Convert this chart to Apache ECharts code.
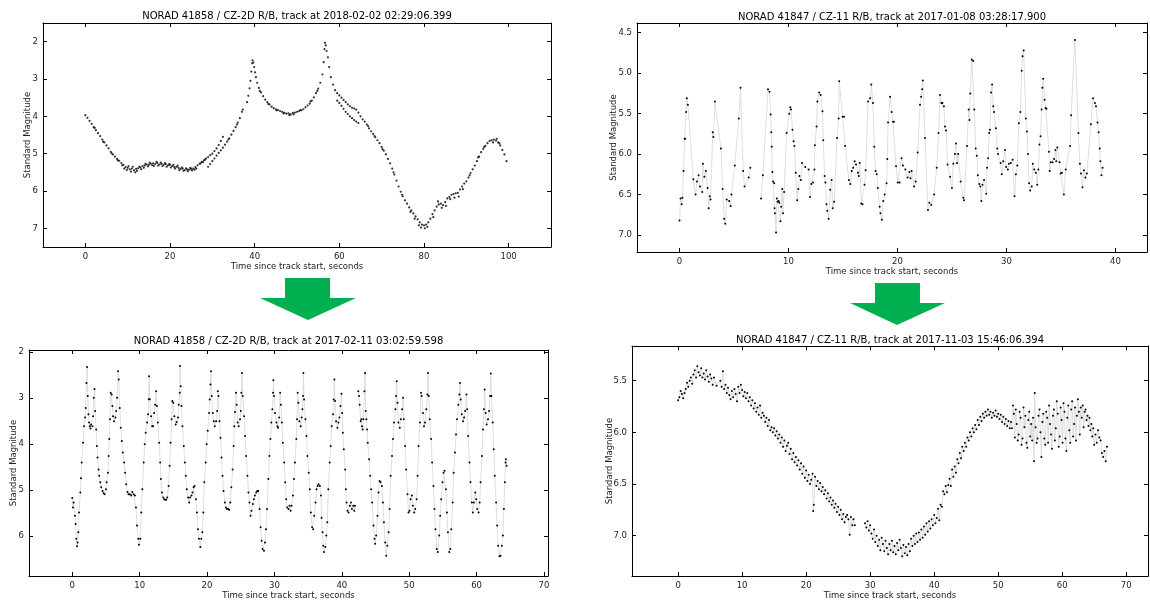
<!DOCTYPE html>
<html>
<head>
<meta charset="utf-8">
<title>NORAD light curves</title>
<script src="https://cdn.jsdelivr.net/npm/echarts@6/dist/echarts.min.js"></script>
<style>
  html, body { margin: 0; padding: 0; background: #fff; }
  #main { width: 1150px; height: 601px; }
</style>
</head>
<body>
<div id="main"></div>
<script>
// top-left: NORAD 41858, 2018-02-02  [seconds, magnitude]
const track1 = [
  [0,3.97],[0.5,4.04],[1,4.12],[1.5,4.2],[2,4.29],[2.5,4.37],[3,4.45],[3.5,4.53],[4,4.62],[4.5,4.7],
  [5,4.78],[5.5,4.86],[6,4.95],[6.5,5.02],[7,5.08],[7.5,5.14],[8,5.19],[8.5,5.25],[9,5.3],[9.5,5.36],
  [10,5.38],[10.5,5.42],[11,5.4],[11.5,5.45],[12,5.41],[12.5,5.39],[13,5.37],[13.5,5.33],[14,5.32],[14.5,5.29],
  [15,5.3],[15.5,5.27],[16,5.26],[16.5,5.28],[17,5.25],[17.5,5.29],[18,5.27],[18.5,5.3],[19,5.28],[19.5,5.32],
  [20,5.3],[20.5,5.33],[21,5.36],[21.5,5.35],[22,5.38],[22.5,5.41],[23,5.4],[23.5,5.44],[24,5.42],[24.5,5.43],
  [25,5.41],[25.5,5.4],[26,5.36],[26.5,5.31],[27,5.27],[27.5,5.22],[28,5.18],[28.5,5.13],[29,5.09],[29.5,5.04],
  [30,5],[30.5,4.93],[31,4.86],[31.5,4.77],[32,4.66],[32.5,4.55],
  [9.2,5.4],[9.8,5.44],[10.2,5.33],[10.8,5.48],[11.2,5.35],[11.8,5.5],[12.2,5.46],[12.8,5.35],[13.2,5.42],[13.8,5.38],
  [14.2,5.27],[14.8,5.34],[15.2,5.24],[15.8,5.31],[16.2,5.33],[16.8,5.22],[17.2,5.32],[17.8,5.24],[18.2,5.33],[18.8,5.25],
  [19.2,5.35],[19.8,5.28],[20.2,5.37],[20.8,5.3],[21.2,5.4],[21.8,5.32],[22.2,5.44],[22.8,5.37],[23.2,5.46],[23.8,5.39],
  [24.2,5.47],[24.8,5.38],[25.2,5.45],[25.8,5.43],[26.2,5.4],
  [29,5.35],[29.5,5.28],[30,5.2],[30.5,5.13],[31,5.05],[31.5,4.98],[32,4.91],[32.5,4.84],[33,4.76],[33.5,4.68],
  [34,4.59],[34.5,4.49],[35,4.39],[35.5,4.29],[36,4.17],[36.5,4.05],[37,3.88],[37.2,3.82],
  [38.2,3.62],[38.5,3.45],[38.8,3.25],[39,3.05],[39.2,2.8],[39.4,2.58],[39.5,2.5],[39.7,2.56],[39.9,2.68],[40.1,2.82],
  [40.3,2.95],[40.6,3.1],[41,3.24],[41.5,3.36],[42,3.46],[42.5,3.55],[43,3.62],[43.5,3.68],[44,3.74],[44.5,3.78],
  [45,3.81],[45.5,3.83],[46,3.86],[46.5,3.88],[47,3.91],[47.5,3.93],[48,3.92],[48.5,3.95],[49,3.91],[49.5,3.9],
  [50,3.88],[50.5,3.86],[51,3.84],[51.5,3.81],[52,3.76],[52.5,3.71],[53,3.66],[53.5,3.58],[54,3.49],[54.5,3.38],
  [55,3.26],[55.5,3.1],[56,2.88],[56.3,2.55],[56.5,2.2],[56.6,2.03],[56.8,2.1],[57,2.25],[57.3,2.42],[57.6,2.68],
  [58,2.95],[58.5,3.15],[59,3.3],[59.5,3.38],[60,3.44],[60.5,3.5],[61,3.56],[61.5,3.62],[62,3.68],[62.5,3.73],
  [63,3.77],[63.5,3.79],[64,3.82],[64.5,3.9],[65,4],[65.5,4.08],[66,4.14],[66.5,4.22],[67,4.32],[67.5,4.4],
  [68,4.47],[68.5,4.56],[69,4.64],[69.5,4.72],[70,4.82],[70.5,4.92],[71,5.02],[71.5,5.14],[72,5.26],[72.5,5.4],
  [73,5.56],[73.5,5.72],[74,5.88],[74.5,6.02],[75,6.14],[75.5,6.25],[76,6.34],[76.5,6.44],[77,6.52],[77.5,6.6],
  [78,6.68],[78.5,6.76],[79,6.84],[79.5,6.9],[80,6.92],[80.5,6.9],[81,6.84],[81.5,6.74],[82,6.62],[82.5,6.52],
  [83,6.42],[83.5,6.36],[84,6.34],[84.5,6.38],[85,6.3],[85.5,6.2],[86,6.16],[86.5,6.1],[87,6.08],[87.5,6.06],
  [88,6.05],[88.5,5.96],[89,5.88],[89.5,5.8],[90,5.74],[90.5,5.64],[91,5.52],[91.5,5.42],[92,5.32],[92.5,5.2],
  [93,5.08],[93.5,4.96],[94,4.87],[94.5,4.79],[95,4.72],[95.5,4.66],[96,4.64],[96.5,4.62],[97,4.65],[97.5,4.7],
  [98,4.78],[98.5,4.9],[99,5.02],[99.5,5.2],
  [59.5,3.58],[60,3.64],[60.5,3.72],[61,3.8],[61.5,3.88],[62,3.94],[62.5,4],[63,4.05],[63.5,4.1],[64,4.14],[64.5,4.18],
  [76.8,6.56],[77.8,6.74],[78.8,6.92],[79.3,6.98],[80.2,7],[80.8,6.96],[82.2,6.7],[83.3,6.28],[84.2,6.45],[85.2,6.4],
  [86.2,6.22],[87.2,6.18],[88.2,6.15],[89.2,5.95],[96.3,4.7],[97.2,4.6],[97.8,4.72],
  [2.2,4.31],[4.2,4.68],[6.2,4.99],[7.7,5.18],[8.7,5.31],[27.2,5.26],[27.8,5.23],[28.3,5.16],[33.8,4.62],[35.8,4.22],
  [41.2,3.32],[43.2,3.67],[45.2,3.84],[46.8,3.92],[48.2,3.97],[49.2,3.95],[50.8,3.83],[53.2,3.6],[54.8,3.32],[66.8,4.26],
  [68.3,4.53],[70.2,4.88],[72.8,5.5],[74.8,6.1],[90.8,5.58],[92.8,5.1],[94.2,4.82]
];

// top-right: NORAD 41847, 2017-01-08
const track2 = [
  [0,6.82],[0.1,6.55],[0.2,6.62],[0.27,6.54],[0.37,6.21],[0.47,5.81],[0.52,5.81],[0.6,5.48],[0.67,5.31],[0.77,5.39],
  [1.27,6.31],[1.48,6.5],[1.6,6.34],[1.75,6.26],[1.88,6.4],[2.08,6.47],[2.15,6.12],[2.28,6.28],[2.42,6.21],[2.58,6.42],
  [2.68,6.67],[2.78,6.52],[2.85,6.56],[3.05,5.73],[3.11,5.79],[3.25,5.35],[3.8,5.93],[3.96,6.43],[4.1,6.8],[4.2,6.86],
  [4.33,6.56],[4.56,6.58],[4.7,6.64],[4.77,6.5],[5.07,6.14],[5.44,5.56],[5.6,5.18],[5.84,6.21],[5.97,6.4],[6.35,6.29],
  [6.5,6.17],[7,'-'],
  [7.48,6.55],[7.65,6.26],[8.12,5.2],[8.26,5.23],[8.36,5.51],[8.42,5.73],[8.46,5.91],[8.52,6.22],[8.59,6.34],[8.69,6.36],
  [8.72,6.67],[8.76,6.73],[8.86,6.97],[8.93,6.55],[9,6.59],[9.1,6.58],[9.16,6.6],[9.26,6.83],[9.33,6.65],[9.43,6.43],
  [9.5,6.73],[9.6,6.47],[9.83,5.74],[10.07,5.5],[10.17,5.42],[10.23,5.45],[10.37,5.7],[10.47,5.84],[10.54,5.9],[10.67,6.23],
  [10.8,6.57],[10.9,6.43],[11,6.27],[11.14,6.32],[11.24,6.11],[11.54,6.16],[11.85,6.19],[11.98,6.53],[12.1,6.37],[12.25,6.35],
  [12.38,6.19],[12.42,5.89],[12.58,5.66],[12.65,5.35],[12.82,5.24],[12.95,5.27],[13.12,5.47],[13.19,5.83],[13.32,6.27],[13.39,6.35],
  [13.49,6.62],[13.56,6.7],[13.69,6.8],[13.83,6.44],[13.96,6.32],[14.06,6.67],[14.19,6.59],[14.46,5.8],[14.6,5.56],[14.66,5.1],
  [14.97,5.54],[15.1,5.54],[15.2,5.9],[15.54,6.32],[15.67,6.37],[15.8,6.21],[15.94,6.17],[16.07,6.09],[16.2,6.13],[16.38,6.23],
  [16.45,6.27],[16.54,6.11],[16.68,6.61],[16.8,6.62],[16.98,6.38],[17.08,6.2],[17.3,5.35],[17.5,5.31],[17.6,5.14],[17.75,5.37],
  [17.87,5.91],[18,6.21],[18.1,6.25],[18.2,6.42],[18.37,6.65],[18.44,6.73],[18.57,6.81],[18.7,6.58],[18.83,6.5],[19,6.36],
  [19.07,6.06],[19.14,5.61],[19.33,5.29],[19.47,5.48],[19.6,5.6],[19.67,5.6],[19.87,6.15],[20.03,6.35],[20.2,6.35],[20.37,6.05],
  [20.5,6.14],[20.73,6.19],[20.93,6.29],[21.1,6.22],[21.2,6.3],[21.3,6.21],[21.53,6.4],[21.67,6.34],[21.86,5.98],[22.07,5.39],
  [22.17,5.29],[22.27,5.2],[22.33,5.09],[22.53,5.8],[22.8,6.69],[22.93,6.6],[23.1,6.63],[23.37,6.5],[23.6,6.17],[23.77,5.74],
  [23.9,5.27],[24.03,5.37],[24.13,5.37],[24.26,5.41],[24.36,5.66],[24.46,5.71],[24.6,6.13],[24.83,6.28],[25,6.42],[25.13,6.12],
  [25.27,6],[25.37,5.87],[25.47,6.11],[25.57,6],[25.8,6.34],[26.04,6.54],[26.11,6.57],[26.38,5.9],[26.54,5.45],[26.61,5.58],
  [26.68,5.25],[26.82,4.83],[26.95,4.85],[27.05,5.45],[27.18,5.93],[27.28,6.02],[27.38,6.26],[27.51,6.37],[27.6,6.4],[27.7,6.58],
  [27.8,6.38],[27.95,6.32],[28.15,6.49],[28.22,6.17],[28.32,6.05],[28.42,5.74],[28.49,5.7],[28.59,5.24],[28.69,5.14],[28.79,5.41],
  [28.86,5.48],[29.03,5.68],[29.16,5.93],[29.23,6],[29.47,6.11],[29.57,6.25],[29.7,6.09],[29.87,5.95],[29.97,6.16],[30.13,6.19],
  [30.23,6.12],[30.4,6.11],[30.57,6.07],[30.74,6.52],[30.87,6.25],[31,6.14],[31.14,5.62],[31.28,5.48],[31.4,4.97],[31.48,4.79],
  [31.58,4.72],[31.78,5.56],[31.88,5.72],[31.98,6],[32.08,6.36],[32.18,6.45],[32.32,6.4],[32.42,6.12],[32.55,6.19],[32.7,6.23],
  [32.83,6.38],[32.93,6.19],[33.03,5.88],[33.13,5.78],[33.23,5.45],[33.3,5.18],[33.37,5.07],[33.5,5.33],[33.6,5.43],[33.67,5.44],
  [33.9,5.97],[33.97,6.21],[34.07,6.1],[34.24,6.1],[34.37,6.06],[34.5,5.95],[34.57,6.09],[34.67,5.92],[34.87,6.1],[34.97,6.24],
  [35.1,6.23],[35.27,6.5],[35.44,6.19],[35.84,5.9],[35.94,5.52],[36.28,4.59],[36.61,5.74],[36.74,6.12],[36.84,6.24],[36.98,6.41],
  [37.11,6.2],[37.25,6.29],[37.38,6.24],[37.75,5.63],[37.95,5.31],[38.12,5.37],[38.22,5.41],[38.36,5.61],[38.46,5.73],[38.56,5.93],
  [38.62,6.09],[38.72,6.26],[38.82,6.17]
];

// bottom-left: NORAD 41858, 2017-02-11
const track3 = [
  [0,5.17],[0.1,5.38],[0.2,5.27],[0.4,5.56],[0.5,5.74],[0.6,6.06],[0.7,6.22],[0.8,6.14],[0.9,5.92],[1,5.49],
  [1.2,5.05],[1.3,4.74],[1.4,4.4],[1.6,3.97],[1.75,3.61],[1.9,3.42],[2,3.21],[2.1,2.67],[2.2,2.32],[2.3,2.95],
  [2.4,3.35],[2.5,3.53],[2.6,3.61],[2.7,3.66],[2.8,3.57],[3,3.61],[3.1,3.39],[3.2,2.99],[3.3,2.8],[3.4,3.28],
  [3.55,3.68],[3.65,4.04],[3.75,4.29],[3.9,4.55],[4,4.69],[4.15,4.83],[4.3,4.94],[4.5,5.02],[4.65,5.07],[4.8,5.09],
  [5,4.98],[5.1,4.83],[5.3,4.62],[5.4,4.26],[5.5,3.89],[5.6,3.46],[5.7,2.88],[5.85,2.92],[5.95,3.17],[6.05,3.39],
  [6.2,3.5],[6.4,3.42],[6.5,3.28],[6.65,2.99],[6.8,2.41],[6.9,2.59],[7.05,3.21],[7.2,3.64],[7.35,3.93],[7.5,4.18],
  [7.7,4.4],[7.85,4.62],[8,4.87],[8.2,5.04],[8.35,5.09],[8.55,5.09],[8.75,5.12],[8.9,5.04],[9.1,5.09],[9.3,5.12],
  [9.45,5.38],[9.6,5.77],[9.8,6.06],[9.9,6.19],[10.1,6.06],[10.25,5.49],[10.4,4.98],[10.6,4.4],[10.75,4],[10.9,3.75],
  [11.1,3.53],[11.25,3.35],[11.35,3.02],[11.4,2.52],[11.5,3.02],[11.7,3.39],[11.85,3.61],[12,3.61],[12.15,3.32],[12.3,3.14],
  [12.45,2.85],[12.55,3.17],[12.7,3.53],[12.9,3.97],[13.05,4.4],[13.15,4.76],[13.3,5.05],[13.5,5.16],[13.65,5.2],[13.8,5.21],
  [13.95,5.21],[14.1,5.16],[14.3,4.91],[14.45,4.47],[14.6,3.97],[14.75,3.46],[14.85,3.06],[15,3.1],[15.15,3.39],[15.35,3.57],
  [15.5,3.52],[15.7,3.42],[15.8,3.14],[15.95,2.88],[16,2.3],[16.1,2.74],[16.2,3.17],[16.35,3.61],[16.55,4.04],[16.7,4.4],
  [16.85,4.69],[17,4.98],[17.2,5.16],[17.35,5.27],[17.5,5.16],[17.7,5.12],[17.85,5.05],[18,4.94],[18.15,4.91],[18.35,5.2],
  [18.5,5.49],[18.65,5.85],[18.8,6.06],[19,6.24],[19.15,6.06],[19.3,5.92],[19.45,5.49],[19.6,4.83],[19.8,4.4],[19.95,4],
  [20.1,3.71],[20.3,3.32],[20.4,3.03],[20.5,2.7],[20.6,2.41],[20.7,2.95],[20.85,3.32],[21,3.5],[21.15,3.61],[21.35,3.5],
  [21.5,3.28],[21.6,2.85],[21.7,2.95],[21.85,3.5],[22,3.86],[22.15,4.29],[22.3,4.69],[22.45,5.02],[22.65,5.27],[22.8,5.38],
  [22.95,5.41],[23.15,5.41],[23.3,5.43],[23.45,5.27],[23.6,4.94],[23.8,4.55],[23.95,4.04],[24.05,3.61],[24.15,3.3],[24.3,2.88],
  [24.4,3.14],[24.55,3.53],[24.7,3.61],[24.9,3.46],[25,3.28],[25.1,2.88],[25.2,2.45],[25.3,2.95],[25.5,3.39],[25.65,3.82],
  [25.8,4.26],[26,4.69],[26.15,5.05],[26.3,5.27],[26.45,5.56],[26.6,5.45],[26.8,5.3],[26.95,5.2],[27.1,5.12],[27.3,5.05],
  [27.45,5.02],[27.6,5.02],[27.8,5.41],[27.95,5.81],[28.1,6.1],[28.25,6.28],[28.45,6.32],[28.6,6.14],[28.75,5.85],[28.9,5.41],
  [29.1,4.76],[29.25,4.26],[29.4,3.89],[29.55,3.53],[29.7,3.24],[29.8,2.88],[29.85,2.61],[29.95,2.95],[30.1,3.32],[30.3,3.53],
  [30.45,3.61],[30.55,3.64],[30.7,3.42],[30.85,2.88],[30.95,3.14],[31.1,3.53],[31.25,3.97],[31.45,4.4],[31.6,4.83],[31.75,5.2],
  [31.9,5.38],[32.1,5.41],[32.25,5.34],[32.4,5.45],[32.55,5.34],[32.75,5.12],[32.9,4.76],[33.05,4.4],[33.25,3.89],[33.35,3.46],
  [33.45,2.88],[33.55,3.1],[33.7,3.5],[33.9,3.61],[34.05,3.42],[34.15,3.24],[34.25,2.95],[34.3,2.45],[34.4,3.03],[34.6,3.46],
  [34.75,3.82],[34.9,4.26],[35.1,4.62],[35.25,4.98],[35.4,5.49],[35.6,5.81],[35.75,5.85],[35.9,5.56],[36.1,5.27],[36.25,4.98],
  [36.4,4.91],[36.55,4.87],[36.75,4.91],[36.9,5.12],[37,5.6],[37.15,5.92],[37.25,6.21],[37.35,6.35],[37.55,6.24],[37.7,5.99],
  [37.85,5.7],[38,4.98],[38.2,4.4],[38.35,4.04],[38.5,3.61],[38.7,3.35],[38.8,3.03],[38.9,2.59],[39,3.06],[39.15,3.5],
  [39.35,3.64],[39.5,3.53],[39.65,3.42],[39.8,3.17],[39.95,2.9],[40.05,3.32],[40.15,3.75],[40.3,4.11],[40.5,4.55],[40.6,4.98],
  [40.7,5.27],[40.85,5.45],[41,5.49],[41.2,5.34],[41.35,5.27],[41.5,5.41],[41.7,5.34],[41.85,5.45],[41.95,5.34],[42.2,'-'],
  [42.45,2.85],[42.55,2.95],[42.65,3.14],[42.8,3.5],[42.9,3.46],[43,3.61],[43.1,3.68],[43.2,3.46],[43.35,2.85],[43.45,2.45],
  [43.55,3.28],[43.65,3.46],[43.75,3.68],[43.85,3.97],[44.05,4.33],[44.2,4.69],[44.35,4.98],[44.5,5.27],[44.7,5.77],[44.85,6.06],
  [44.95,6.17],[45.1,5.99],[45.3,5.56],[45.45,5.05],[45.6,4.8],[45.75,4.83],[45.95,4.91],[46.1,5.27],[46.25,5.7],[46.45,6.14],
  [46.6,6.43],[46.75,6.21],[46.95,5.92],[47.1,5.41],[47.25,4.69],[47.45,4.26],[47.6,3.89],[47.75,3.53],[47.95,3.24],[48.05,2.95],
  [48.15,2.63],[48.25,3.1],[48.4,3.53],[48.6,3.64],[48.75,3.46],[48.95,3.24],[49.1,2.99],[49.2,3.46],[49.4,4.04],[49.55,4.55],
  [49.75,5.09],[49.9,5.49],[50.05,5.45],[50.2,5.2],[50.4,5.12],[50.55,5.34],[50.75,5.49],[50.9,5.41],[51.1,5.2],[51.25,4.69],
  [51.4,4.04],[51.6,3.53],[51.75,2.88],[51.85,2.95],[52.05,3.32],[52.2,3.61],[52.35,3.53],[52.55,3.24],[52.7,2.92],[52.8,2.45],
  [52.9,2.95],[53.05,3.46],[53.25,3.89],[53.4,4.4],[53.6,4.91],[53.75,5.41],[53.9,5.85],[54.1,6.28],[54.25,6.35],[54.45,5.99],
  [54.6,5.56],[54.75,5.2],[54.95,4.83],[55.1,4.62],[55.25,4.58],[55.45,4.98],[55.6,5.49],[55.75,5.92],[55.95,6.35],[56.1,6.28],
  [56.25,5.85],[56.45,5.27],[56.6,4.62],[56.8,4.18],[56.95,3.79],[57.1,3.46],[57.3,3.14],[57.45,2.92],[57.55,2.67],[57.65,3.03],
  [57.8,3.35],[58,3.5],[58.15,3.42],[58.3,3.28],[58.5,2.92],[58.6,3.24],[58.75,3.82],[58.95,4.4],[59.1,4.83],[59.3,5.27],
  [59.45,5.49],[59.6,5.27],[59.8,5.05],[59.95,5.2],[60.1,5.41],[60.3,5.49],[60.45,5.27],[60.6,4.83],[60.8,4.26],[60.95,3.68],
  [61.1,3.24],[61.2,2.81],[61.35,3.32],[61.5,3.57],[61.7,3.46],[61.85,3.28],[62,2.95],[62.1,2.46],[62.2,2.95],[62.4,3.53],
  [62.55,4.11],[62.7,4.69],[62.9,5.27],[63.05,5.77],[63.2,6.21],[63.4,6.44],[63.55,6.43],[63.75,6.21],[63.9,5.99],[64.05,5.41],
  [64.2,4.83],[64.3,4.4],[64.35,4.33],[64.45,4.47]
];

// bottom-right: NORAD 41847, 2017-11-03
const track4 = [
  [0,5.69],[0.2,5.66],[0.4,5.6],[0.6,5.63],[0.8,5.67],[1,5.62],[1.2,5.58],[1.4,5.52],[1.6,5.56],[1.8,5.5],
  [2,5.47],[2.2,5.53],[2.4,5.44],[2.6,5.4],[2.8,5.47],[3,5.36],[3.2,5.42],[3.4,5.45],[3.6,5.38],[3.8,5.47],
  [4,5.43],[4.2,5.49],[4.4,5.4],[4.6,5.46],[4.8,5.51],[5,5.44],[5.2,5.48],[5.4,5.54],[5.6,5.47],[6,5.55],
  [6.6,5.5],[6.8,5.56],[7,5.41],[7.2,5.58],[7.4,5.54],[7.6,5.62],[7.8,5.57],[8,5.64],[8.2,5.68],[8.4,5.6],
  [8.6,5.66],[8.8,5.58],[9,5.63],[9.2,5.7],[9.4,5.56],[9.6,5.62],[9.8,5.54],[10,5.59],[10.2,5.65],[10.4,5.61],
  [10.6,5.67],[10.8,5.62],[11,5.7],[11.2,5.66],[11.4,5.74],[11.6,5.69],[11.8,5.77],[12,5.72],[12.2,5.8],[12.4,5.76],
  [12.6,5.83],[12.8,5.74],[13,5.86],[13.2,5.81],[13.4,5.84],[13.6,5.9],[13.8,5.86],[14,5.94],[14.2,5.88],[14.4,5.98],
  [14.6,5.95],[14.8,6],[15,5.96],[15.2,6.03],[15.4,5.99],[15.6,6.06],[15.8,6.02],[16,6.1],[16.2,6.05],[16.4,6.14],
  [16.6,6.08],[16.8,6.18],[17,6.13],[17.2,6.1],[17.4,6.21],[17.6,6.16],[17.8,6.26],[18,6.2],[18.2,6.29],[18.4,6.24],
  [18.6,6.32],[18.8,6.27],[19,6.36],[19.2,6.3],[19.4,6.4],[19.6,6.33],[19.8,6.44],[20,6.37],[20.2,6.47],[20.4,6.41],
  [20.6,6.5],[20.8,6.46],[21,6.4],[21.1,6.76],[21.2,6.7],[21.4,6.43],[21.6,6.52],[21.8,6.47],[22,6.55],[22.2,6.49],
  [22.4,6.57],[22.6,6.53],[22.8,6.6],[23,6.56],[23.2,6.64],[23.4,6.59],[23.6,6.67],[23.8,6.63],[24,6.7],[24.2,6.66],
  [24.4,6.73],[24.6,6.69],[24.8,6.77],[25,6.72],[25.2,6.8],[25.4,6.75],[25.6,6.84],[25.8,6.79],[26,6.87],[26.2,6.82],
  [26.4,6.8],[26.6,6.84],[26.8,6.99],[27,6.82],[27.2,6.9],[27.4,6.84],[27.6,6.9],[28.4,'-'],
  [29.2,6.88],[29.4,6.92],[29.6,6.86],[29.8,6.95],[30,6.9],[30.2,6.98],[30.4,7.03],[30.6,6.94],[30.8,7.06],[31,7],
  [31.2,7.1],[31.4,7.04],[31.6,7.14],[31.8,7.02],[32,7.08],[32.2,7.15],[32.4,7.05],[32.6,7.12],[32.8,7.18],[33,7.08],
  [33.2,7.14],[33.4,7.05],[33.6,7.16],[33.8,7.1],[34,7.18],[34.2,7.07],[34.4,7.14],[34.6,7.04],[34.8,7.12],[35,7.2],
  [35.2,7.09],[35.4,7.17],[35.6,7.11],[35.8,7.19],[36,7.08],[36.2,7.15],[36.4,7.03],[36.6,7.1],[36.8,7],[37,7.08],
  [37.2,6.98],[37.4,7.06],[37.6,6.97],[37.8,7.04],[38,6.94],[38.2,7.02],[38.4,6.91],[38.6,6.99],[38.8,6.88],[39,6.96],
  [39.2,6.86],[39.4,6.93],[39.6,6.84],[39.8,6.9],[40,6.8],[40.2,6.88],[40.4,6.83],[40.6,6.74],[40.8,6.85],[41,6.7],
  [41.2,6.72],[41.4,6.57],[41.6,6.6],[41.8,6.52],[42,6.58],[42.2,6.51],[42.4,6.45],[42.6,6.52],[42.8,6.36],[43,6.43],
  [43.2,6.33],[43.4,6.39],[43.6,6.26],[43.8,6.3],[44,6.2],[44.2,6.25],[44.4,6.14],[44.6,6.18],[44.8,6.1],[45,6.14],
  [45.2,6.05],[45.4,6.08],[45.6,6],[45.8,6.04],[46,5.96],[46.2,6],[46.4,5.93],[46.6,5.97],[46.8,5.88],[47,5.93],
  [47.2,5.85],[47.4,5.89],[47.6,5.82],[47.8,5.86],[48,5.8],[48.2,5.84],[48.4,5.78],[48.6,5.83],[48.8,5.8],[49,5.86],
  [49.2,5.81],[49.4,5.84],[49.6,5.79],[49.8,5.85],[50,5.82],[50.2,5.87],[50.4,5.83],[50.6,5.9],[50.8,5.85],[51,5.92],
  [51.2,5.87],[51.4,5.94],[51.6,5.89],[51.8,5.96],
  [52,5.9],[52.15,5.96],[52.3,5.74],[52.45,5.82],[52.6,6.05],[52.75,5.78],[52.9,5.92],[53.05,6.08],[53.2,6.02],[53.35,5.8],
  [53.5,5.86],[53.65,6.12],[53.8,6.06],[53.95,5.76],[54.1,5.95],[54.25,5.84],[54.4,6.1],[54.55,6.15],[54.7,5.88],[54.85,5.8],
  [55,6.04],[55.15,5.92],[55.3,6.08],[55.45,5.86],[55.6,6.28],[55.7,5.62],[55.85,5.95],[56,6.1],[56.15,6.06],[56.3,5.84],
  [56.45,5.78],[56.6,6],[56.75,6.24],[56.9,5.9],[57.05,5.82],[57.2,6.06],[57.35,6.12],[57.5,5.8],[57.65,5.86],[57.8,6.1],
  [57.95,5.74],[58.1,5.92],[58.25,6.02],[58.4,6.16],[58.55,5.84],[58.7,5.78],[58.85,6.08],[59,5.96],[59.15,5.7],[59.3,5.82],
  [59.45,6.14],[59.6,6.04],[59.75,5.76],[59.9,5.88],[60.05,6.1],[60.2,5.72],[60.35,5.8],[60.5,6.06],[60.65,6.18],[60.8,5.86],
  [60.95,5.74],[61.1,5.98],[61.25,6.1],[61.4,5.78],[61.55,5.7],[61.7,6.04],[61.85,5.92],[62,5.76],[62.15,6.08],[62.3,5.84],
  [62.45,5.68],[62.6,5.8],[62.75,6.02],[62.9,5.76],[63.05,5.86],[63.2,5.74],[63.35,5.95],[63.5,5.8],[63.65,5.78],[63.8,5.88],
  [63.95,5.84],[64.1,5.94],[64.25,5.86],[64.4,5.98],[64.55,5.92],[64.7,6.04],[64.85,5.96],
  [65,6.12],[65.2,6.02],[65.4,6.1],[65.6,5.98],[65.8,6.05],[66,6.08],[66.2,6.2],[66.4,6.24],[66.6,6.18],[66.8,6.28],[67,6.14]
];

const titles = [
  'NORAD 41858 / CZ-2D R/B, track at 2018-02-02 02:29:06.399',
  'NORAD 41847 / CZ-11 R/B, track at 2017-01-08 03:28:17.900',
  'NORAD 41858 / CZ-2D R/B, track at 2017-02-11 03:02:59.598',
  'NORAD 41847 / CZ-11 R/B, track at 2017-11-03 15:46:06.394'
];
const xTicks1 = [0, 20, 40, 60, 80, 100];
const xTicks2 = [0, 10, 20, 30, 40];
const xTicks3 = [0, 10, 20, 30, 40, 50, 60, 70];
const xTicks4 = [0, 10, 20, 30, 40, 50, 60, 70];
const yTicks1 = [2, 3, 4, 5, 6, 7];
const yTicks2 = [4.5, 5.0, 5.5, 6.0, 6.5, 7.0];
const yTicks3 = [2, 3, 4, 5, 6];
const yTicks4 = [5.5, 6.0, 6.5, 7.0];

const FONT = 'DejaVu Sans';

// panel layout: grid box, axis extents, y name gap, label decimals
const panels = [
  { box: {left: 43, top: 23, width: 508, height: 224}, x: [-10, 110], y: [1.5, 7.5], xt: xTicks1, yt: yTicks1, gap: 11, dec: 0, titleY: 11 },
  { box: {left: 637, top: 23, width: 510, height: 229}, x: [-3.9, 42.9], y: [4.38, 7.21], xt: xTicks2, yt: yTicks2, gap: 19, dec: 1, titleY: 12 },
  { box: {left: 29, top: 350, width: 519, height: 227}, x: [-6.42, 70.6], y: [1.95, 6.87], xt: xTicks3, yt: yTicks3, gap: 11, dec: 0, titleY: 336 },
  { box: {left: 632, top: 346, width: 516, height: 232}, x: [-7.2, 73.4], y: [5.165, 7.39], xt: xTicks4, yt: yTicks4, gap: 18, dec: 1, titleY: 335 }
];
const tracks = [track1, track2, track3, track4];

const lineC = '#000';
const tickStyle = {inside: true, length: 4, lineStyle: {color: lineC, width: 1}};

let grid = [], xAxis = [], yAxis = [], series = [], title = [];
panels.forEach((p, i) => {
  grid.push(Object.assign({show: false}, p.box));
  title.push({
    text: titles[i], left: p.box.left + p.box.width / 2, top: p.titleY, textAlign: 'center', padding: 0,
    textStyle: {fontFamily: FONT, fontSize: 10, fontWeight: 'normal', color: '#000'}
  });
  // bottom + top x axes (ticks on both sides, matplotlib style)
  ['bottom', 'top'].forEach(pos => {
    xAxis.push({
      gridIndex: i, type: 'value', position: pos, min: p.x[0], max: p.x[1],
      axisLine: {show: true, onZero: false, lineStyle: {color: lineC, width: 1}},
      axisTick: Object.assign({customValues: p.xt}, tickStyle),
      axisLabel: {show: pos == 'bottom', customValues: p.xt, margin: 5, fontFamily: FONT, fontSize: 8.5, color: '#222'},
      splitLine: {show: false},
      name: pos == 'bottom' ? 'Time since track start, seconds' : '',
      nameLocation: 'middle', nameGap: 15, nameMoveOverlap: false,
      nameTextStyle: {fontFamily: FONT, fontSize: 8.5, color: '#222'}
    });
  });
  ['left', 'right'].forEach(pos => {
    yAxis.push({
      gridIndex: i, type: 'value', position: pos, inverse: true, min: p.y[0], max: p.y[1],
      axisLine: {show: true, onZero: false, lineStyle: {color: lineC, width: 1}},
      axisTick: Object.assign({customValues: p.yt}, tickStyle),
      axisLabel: {show: pos == 'left', customValues: p.yt, margin: 5, fontFamily: FONT, fontSize: 8.5, color: '#222',
                  formatter: v => v.toFixed(p.dec)},
      splitLine: {show: false},
      name: pos == 'left' ? 'Standard Magnitude' : '',
      nameLocation: 'middle', nameGap: p.gap, nameRotate: 90, nameMoveOverlap: false,
      nameTextStyle: {fontFamily: FONT, fontSize: 8.5, color: '#222'}
    });
  });
  if (i == 0) {
    series.push({
      type: 'scatter', xAxisIndex: 0, yAxisIndex: 0, data: tracks[i],
      symbol: 'circle', symbolSize: 2.2, itemStyle: {color: '#000'}, silent: true
    });
  } else {
    series.push({
      type: 'line', xAxisIndex: i * 2, yAxisIndex: i * 2, data: tracks[i],
      showSymbol: true, showAllSymbol: true, symbol: 'circle', symbolSize: 2,
      itemStyle: {color: '#000'}, lineStyle: {color: '#d6d6d6', width: 0.8},
      connectNulls: false, silent: true
    });
  }
});

// green arrows between the rows
const arrowColor = '#00b050';
const graphic = [
  {type: 'polygon', shape: {points: [[285,278],[330,278],[330,298],[356,298],[308,320],[260,298],[285,298]]}, style: {fill: arrowColor}},
  {type: 'polygon', shape: {points: [[875,283],[920,283],[920,303],[945,303],[897,325],[850,303],[875,303]]}, style: {fill: arrowColor}}
];

const chart = echarts.init(document.getElementById('main'), null, {renderer: 'canvas'});
chart.setOption({
  backgroundColor: '#fff',
  animation: false,
  title, grid, xAxis, yAxis, series, graphic
});
</script>
</body>
</html>
